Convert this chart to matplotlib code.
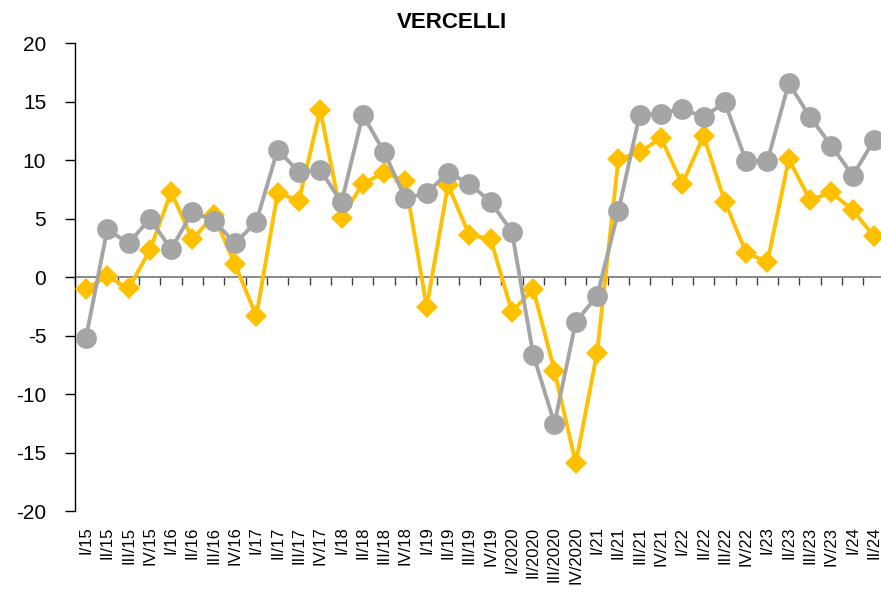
import matplotlib
matplotlib.use("Agg")
import matplotlib.pyplot as plt
import numpy as np

plt.rcParams['font.family'] = ['Liberation Sans', 'DejaVu Sans']
plt.rcParams['axes.unicode_minus'] = False

# quarters
labels = ['I/15', 'II/15', 'III/15', 'IV/15',
          'I/16', 'II/16', 'III/16', 'IV/16',
          'I/17', 'II/17', 'III/17', 'IV/17',
          'I/18', 'II/18', 'III/18', 'IV/18',
          'I/19', 'II/19', 'III/19', 'IV/19',
          'I/2020', 'II/2020', 'III/2020', 'IV/2020',
          'I/21', 'II/21', 'III/21', 'IV/21',
          'I/22', 'II/22', 'III/22', 'IV/22',
          'I/23', 'II/23', 'III/23', 'IV/23',
          'I/24', 'II/24']

# grey series (circles)
grey_vals = [-5.2, 4.1, 2.9, 5.0, 2.4, 5.6, 4.85, 2.9,
             4.75, 10.9, 9.0, 9.2, 6.4, 13.9, 10.7, 6.75,
             7.2, 8.95, 8.0, 6.45, 3.9, -6.6, -12.5, -3.8,
             -1.6, 5.65, 13.9, 14.0, 14.4, 13.7, 14.95, 9.9,
             9.95, 16.6, 13.7, 11.25, 8.7, 11.7]

# yellow series (diamonds)
yellow_vals = [-1.0, 0.1, -0.95, 2.3, 7.3, 3.25, 5.3, 1.1,
               -3.3, 7.2, 6.55, 14.3, 5.1, 8.0, 8.95, 8.2,
               -2.55, 7.9, 3.6, 3.3, -2.95, -1.0, -8.0, -15.9,
               -6.45, 10.1, 10.7, 11.9, 7.97, 12.1, 6.45, 2.1,
               1.3, 10.1, 6.6, 7.25, 5.75, 3.5]

x = np.arange(len(labels))

fig = plt.figure(figsize=(8.81, 5.95), dpi=100)
# plot area runs a bit past the right edge, like the original crop
ax = fig.add_axes([75.3 / 881, 83.7 / 595, 809.3 / 881, 468.0 / 595])

# spines first: moving a spine resets the ticks
ax.spines['bottom'].set_visible(False)
ax.spines['right'].set_visible(False)
ax.spines['top'].set_position(('data', 0))
ax.spines['top'].set_color('#808080')
ax.spines['top'].set_linewidth(1.3)
ax.spines['top'].set_zorder(2)
ax.spines['left'].set_linewidth(1)

ax.plot(x, yellow_vals, color='#FFC000', lw=2.8, marker='D', ms=11,
        markeredgewidth=0, zorder=3)
ax.plot(x, grey_vals, color='#A5A5A5', lw=2.8, marker='o', ms=15,
        markeredgewidth=0, zorder=4)

ax.set_xlim(-0.5, len(labels) - 0.5)
ax.set_ylim(-20, 20)
ax.set_yticks(np.arange(-20, 21, 5))
ax.tick_params(axis='y', labelsize=15, length=7, width=1, pad=14,
               color='black')

# category labels at the bottom, tick marks on the zero line
ax.set_xticks(x)
ax.set_xticks(np.arange(-0.5, len(labels), 1), minor=True)
ax.tick_params(axis='x', which='major', length=0, pad=11, bottom=True,
               top=False, labelrotation=90, labelsize=12)
ax.tick_params(axis='x', which='minor', bottom=False, top=True,
               direction='in', length=6, width=1, color='#404040')
ax.set_xticklabels(labels, va='top', ha='center')

fig.text(451.7 / 881, 1 - 22 / 595, 'VERCELLI', ha='center', va='center',
         fontsize=16, fontweight='bold')

fig.savefig('out.png', dpi=100)
